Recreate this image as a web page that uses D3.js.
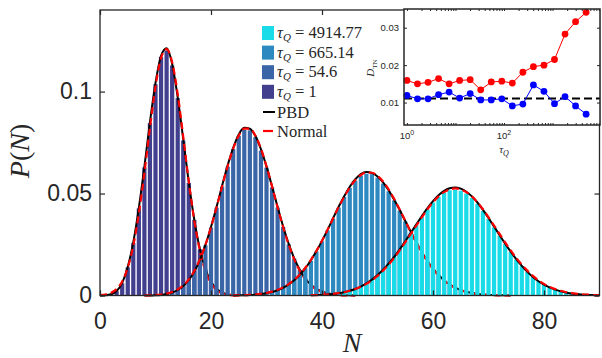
<!DOCTYPE html>
<html lang="en">
<head>
    <meta charset="utf-8">
    <title>P(N)</title>
    <script src="https://d3js.org/d3.v7.min.js" charset="utf-8"></script>
    <style>
        body { margin: 0; background: #fff; }
        .tick text { font-family: "Liberation Sans", Arial, sans-serif; fill: #262626; }
        .serif { font-family: "Liberation Serif", "Times New Roman", serif; fill: #262626; }
    </style>
</head>
<body>
<script>

// tau values shown in the legend (order: smallest first)
var tauLabels = ["1", "54.6", "665.14", "4914.77"]

// histogram / PBD / Normal values, one entry per integer N, starting at nStart
var nStart = [0, 8, 24, 38]

var hist1 = [0,0.0001,0.0005,0.0021,0.0060,0.0138,0.0258,0.0427,0.0628,0.0846,0.1036,0.1170,0.1201,0.1128,0.0968,0.0760,0.0552,0.0371,0.0226,0.0129,0.0066,0.0032,0.0014,0.0006,0.0002,0.0001]
var pbd1 = [0,0.0001,0.0006,0.0022,0.0062,0.0140,0.0262,0.0430,0.0632,0.0850,0.1042,0.1175,0.1212,0.1135,0.0972,0.0766,0.0555,0.0370,0.0228,0.0130,0.0068,0.0033,0.0015,0.0006,0.0002,0.0001]
var norm1 = [0.0002,0.0005,0.0013,0.0032,0.0069,0.0136,0.0245,0.0402,0.0601,0.0822,0.1024,0.1165,0.1208,0.1144,0.0988,0.0778,0.0559,0.0366,0.0219,0.0119,0.0060,0.0027,0.0011,0.0004,0.0001,0]

var hist2 = [0,0,0.0001,0.0003,0.0007,0.0015,0.0026,0.0047,0.0075,0.0119,0.0173,0.0246,0.0333,0.0430,0.0534,0.0632,0.0718,0.0783,0.0812,0.0810,0.0776,0.0710,0.0627,0.0530,0.0431,0.0336,0.0251,0.0181,0.0125,0.0083,0.0053,0.0032,0.0019,0.0011,0.0006,0.0003,0.0001,0.0001,0]
var pbd2 = [0,0,0.0001,0.0003,0.0007,0.0014,0.0027,0.0046,0.0076,0.0118,0.0175,0.0248,0.0336,0.0434,0.0538,0.0638,0.0724,0.0790,0.0822,0.0818,0.0782,0.0717,0.0632,0.0535,0.0434,0.0338,0.0253,0.0182,0.0126,0.0083,0.0053,0.0033,0.0020,0.0011,0.0006,0.0003,0.0001,0.0001,0]
var norm2 = [0,0.0001,0.0003,0.0005,0.0009,0.0017,0.0030,0.0049,0.0079,0.0121,0.0177,0.0249,0.0335,0.0432,0.0535,0.0634,0.0720,0.0784,0.0818,0.0818,0.0784,0.0720,0.0634,0.0535,0.0432,0.0335,0.0249,0.0177,0.0121,0.0079,0.0049,0.0030,0.0017,0.0009,0.0005,0.0003,0.0001,0,0]

var hist3 = [0,0.0001,0.0001,0.0002,0.0004,0.0007,0.0011,0.0018,0.0026,0.0037,0.0055,0.0074,0.0100,0.0133,0.0171,0.0216,0.0266,0.0319,0.0376,0.0431,0.0483,0.0528,0.0563,0.0588,0.0597,0.0595,0.0578,0.0549,0.0511,0.0466,0.0416,0.0363,0.0309,0.0258,0.0210,0.0167,0.0130,0.0100,0.0074,0.0054,0.0038,0.0026,0.0018,0.0012,0.0008,0.0005,0.0003,0.0002,0.0001,0.0001,0]
var pbd3 = [0,0.0001,0.0001,0.0002,0.0004,0.0007,0.0011,0.0017,0.0026,0.0038,0.0054,0.0075,0.0101,0.0134,0.0173,0.0218,0.0268,0.0322,0.0379,0.0435,0.0487,0.0533,0.0570,0.0595,0.0605,0.0601,0.0584,0.0555,0.0516,0.0470,0.0419,0.0365,0.0312,0.0260,0.0212,0.0169,0.0132,0.0101,0.0075,0.0055,0.0039,0.0027,0.0018,0.0012,0.0008,0.0005,0.0003,0.0002,0.0001,0.0001,0]
var norm3 = [0.0001,0.0001,0.0002,0.0003,0.0005,0.0008,0.0012,0.0019,0.0028,0.0040,0.0056,0.0077,0.0103,0.0136,0.0175,0.0219,0.0269,0.0322,0.0378,0.0433,0.0484,0.0529,0.0566,0.0591,0.0603,0.0602,0.0587,0.0559,0.0521,0.0474,0.0422,0.0367,0.0312,0.0259,0.0210,0.0166,0.0129,0.0098,0.0072,0.0052,0.0037,0.0026,0.0017,0.0011,0.0007,0.0005,0.0003,0.0002,0.0001,0.0001,0]

var hist4 = [0.0001,0.0002,0.0003,0.0005,0.0007,0.0011,0.0016,0.0022,0.0031,0.0043,0.0058,0.0077,0.0099,0.0124,0.0154,0.0187,0.0224,0.0263,0.0303,0.0344,0.0384,0.0422,0.0456,0.0484,0.0504,0.0516,0.0519,0.0514,0.0500,0.0478,0.0449,0.0414,0.0375,0.0334,0.0293,0.0252,0.0213,0.0177,0.0144,0.0115,0.0090,0.0070,0.0053,0.0039,0.0029,0.0021,0.0015,0.0010,0.0007,0.0004,0.0003,0.0002,0.0001]
var pbd4 = [0.0001,0.0002,0.0003,0.0005,0.0007,0.0011,0.0016,0.0023,0.0032,0.0044,0.0059,0.0078,0.0100,0.0126,0.0156,0.0189,0.0226,0.0266,0.0307,0.0349,0.0390,0.0429,0.0463,0.0492,0.0513,0.0526,0.0530,0.0524,0.0509,0.0486,0.0456,0.0420,0.0380,0.0338,0.0296,0.0254,0.0215,0.0178,0.0145,0.0116,0.0091,0.0070,0.0053,0.0040,0.0029,0.0021,0.0015,0.0010,0.0007,0.0004,0.0003,0.0002,0.0001]
var norm4 = [0.0002,0.0002,0.0004,0.0005,0.0008,0.0012,0.0016,0.0023,0.0032,0.0043,0.0057,0.0075,0.0096,0.0122,0.0151,0.0184,0.0221,0.0260,0.0302,0.0343,0.0384,0.0423,0.0457,0.0486,0.0507,0.0520,0.0525,0.0520,0.0507,0.0486,0.0457,0.0423,0.0384,0.0343,0.0302,0.0260,0.0221,0.0184,0.0151,0.0122,0.0096,0.0075,0.0057,0.0043,0.0032,0.0023,0.0016,0.0012,0.0008,0.0005,0.0004,0.0002,0.0001]

// inset: D_TN vs tau_Q
var tauQ = [1, 1.65, 2.72, 4.48, 7.39, 12.18, 20.09, 33.12, 54.6, 90.02, 148.41, 244.69, 403.43, 665.14, 1096.63, 1808.04, 2980.96, 4914.77]
var dRed = [0.0159,0.0150,0.0154,0.0164,0.0150,0.0159,0.0161,0.0134,0.0155,0.0157,0.0152,0.0181,0.0196,0.0200,0.0215,0.0283,0.0316,0.0341]
var dBlue = [0.0119,0.0110,0.0110,0.0121,0.0128,0.0112,0.0124,0.0107,0.0107,0.0110,0.0091,0.0096,0.0147,0.0130,0.0097,0.0116,0.0091,0.0069]
var dRef = 0.0111

var xTicks = [0, 20, 40, 60, 80]
var yTicks = [0, 0.05, 0.1]
var insetYTicks = [0.01, 0.02, 0.03]
var insetXLabels = [1, 100]

var barColors = ["#433f8f", "#3a66a7", "#2f89c1", "#1adbe8"]
var hists = [hist1, hist2, hist3, hist4]
var pbds = [pbd1, pbd2, pbd3, pbd4]
var norms = [norm1, norm2, norm3, norm4]

var w = 602, h = 358
var svg = d3.select("body").append("svg").attr("width", w).attr("height", h)

var x = d3.scaleLinear().domain([0, 90]).range([100, 599.5])
var y = d3.scaleLinear().domain([0, 0.14]).range([295.5, 10])

svg.append("clipPath").attr("id", "plot").append("rect")
    .attr("x", x(0)).attr("y", y(0.14)).attr("width", x(90) - x(0)).attr("height", y(0) - y(0.14) + 2)

function pts(start, vals) {
    return vals.map(function (v, i) { return { n: start + i, v: v } })
}

var line = d3.line()
    .x(function (d) { return x(d.n) })
    .y(function (d) { return y(d.v) })
    .curve(d3.curveMonotoneX)

var plot = svg.append("g").attr("clip-path", "url(#plot)")
var bw = (x(1) - x(0)) * 0.76

hists.forEach(function (hv, k) {
    plot.append("g").selectAll("rect").data(pts(nStart[k], hv)).join("rect")
        .attr("x", function (d) { return x(d.n) - bw / 2 })
        .attr("y", function (d) { return y(d.v) })
        .attr("width", bw)
        .attr("height", function (d) { return y(0) - y(d.v) })
        .attr("fill", barColors[k])
    plot.append("path").datum(pts(nStart[k], pbds[k])).attr("d", line)
        .attr("fill", "none").attr("stroke", "black").attr("stroke-width", 2)
    plot.append("path").datum(pts(nStart[k], norms[k])).attr("d", line)
        .attr("fill", "none").attr("stroke", "#ff0000").attr("stroke-width", 2.2)
        .attr("stroke-dasharray", "7,4")
})

// axes (ticks inside, box on)
var fmtY = function (d) { return d === 0 ? "0" : d3.format("")(d) }
svg.append("g").attr("transform", "translate(0," + y(0) + ")")
    .call(d3.axisBottom(x).tickValues(xTicks).tickSize(-5).tickPadding(17))
    .call(function (g) { g.selectAll("text").attr("font-size", 23) })
svg.append("g").attr("transform", "translate(0," + y(0.14) + ")")
    .call(d3.axisTop(x).tickValues(xTicks).tickSize(-5).tickFormat(""))
svg.append("g").attr("transform", "translate(" + x(0) + ",0)")
    .call(d3.axisLeft(y).tickValues(yTicks).tickSize(-5).tickPadding(8).tickFormat(fmtY))
    .call(function (g) { g.selectAll("text").attr("font-size", 23) })
svg.append("g").attr("transform", "translate(" + x(90) + ",0)")
    .call(d3.axisRight(y).tickValues(yTicks).tickSize(-5).tickFormat(""))
svg.selectAll(".domain").remove()
svg.selectAll(".tick line").attr("stroke", "#262626").attr("stroke-width", 1.2)
svg.append("rect").attr("x", x(0)).attr("y", y(0.14)).attr("width", x(90) - x(0)).attr("height", y(0) - y(0.14))
    .attr("fill", "none").attr("stroke", "#262626").attr("stroke-width", 1.3)

// axis labels
svg.append("text").attr("class", "serif").attr("x", 352).attr("y", 352)
    .attr("text-anchor", "middle").attr("font-size", 28).attr("font-style", "italic").text("N")
var yl = svg.append("text").attr("class", "serif").attr("transform", "translate(29,151) rotate(-90)")
    .attr("text-anchor", "middle").attr("font-size", 28)
yl.append("tspan").attr("font-style", "italic").text("P")
yl.append("tspan").text("(")
yl.append("tspan").attr("font-style", "italic").text("N")
yl.append("tspan").text(")")

// legend
var legend = svg.append("g")
var rows = [3, 2, 1, 0]
rows.forEach(function (k, i) {
    var cy = 33 + i * 19.6
    legend.append("rect").attr("x", 262).attr("y", cy - 7).attr("width", 12).attr("height", 14).attr("fill", barColors[k])
    var t = legend.append("text").attr("class", "serif").attr("x", 277).attr("y", cy + 5).attr("font-size", 16.5)
    t.append("tspan").attr("font-style", "italic").text("τ")
    t.append("tspan").attr("font-style", "italic").attr("font-size", 11).attr("dy", 3).text("Q")
    t.append("tspan").attr("dy", -3).text(" = " + tauLabels[k])
})
legend.append("line").attr("x1", 263).attr("x2", 275).attr("y1", 112).attr("y2", 112).attr("stroke", "black").attr("stroke-width", 2)
legend.append("text").attr("class", "serif").attr("x", 277).attr("y", 118).attr("font-size", 16.5).text("PBD")
legend.append("line").attr("x1", 263).attr("x2", 273).attr("y1", 131).attr("y2", 131).attr("stroke", "#ff0000").attr("stroke-width", 2.2)
legend.append("text").attr("class", "serif").attr("x", 277).attr("y", 137).attr("font-size", 16.5).text("Normal")

// inset
var xi = d3.scaleLog().domain([0.87, 9500]).range([404, 600])
var yi = d3.scaleLinear().domain([0.004, 0.035]).range([125, 9])
var inset = svg.append("g")
inset.append("rect").attr("x", 404).attr("y", 9).attr("width", 196).attr("height", 116).attr("fill", "white")

inset.append("line").attr("x1", 404).attr("x2", 600).attr("y1", yi(dRef)).attr("y2", yi(dRef))
    .attr("stroke", "black").attr("stroke-width", 2).attr("stroke-dasharray", "8,4")

var iline = d3.line().x(function (d) { return xi(d[0]) }).y(function (d) { return yi(d[1]) })
;[[dRed, "#ff0000"], [dBlue, "#0000ff"]].forEach(function (s) {
    var data = tauQ.map(function (t, i) { return [t, s[0][i]] })
    inset.append("path").datum(data).attr("d", iline).attr("fill", "none").attr("stroke", s[1]).attr("stroke-width", 1)
    inset.selectAll(null).data(data).join("circle")
        .attr("cx", function (d) { return xi(d[0]) }).attr("cy", function (d) { return yi(d[1]) })
        .attr("r", 3.4).attr("fill", s[1])
})

var minor = []
;[1, 10, 100, 1000].forEach(function (p) {
    for (var m = 1; m < 10; m++) if (p * m > 0.87 && p * m < 9500) minor.push(p * m)
})
inset.append("g").attr("transform", "translate(0,125)")
    .call(d3.axisBottom(xi).tickValues(minor).tickSize(-2).tickFormat(""))
inset.append("g").attr("transform", "translate(0,9)")
    .call(d3.axisTop(xi).tickValues(minor).tickSize(-2).tickFormat(""))
inset.append("g").attr("transform", "translate(404,0)")
    .call(d3.axisLeft(yi).tickValues(insetYTicks).tickSize(-3).tickPadding(5).tickFormat(d3.format(".2f")))
    .call(function (g) { g.selectAll("text").attr("font-size", 9.5) })
inset.append("g").attr("transform", "translate(600,0)")
    .call(d3.axisRight(yi).tickValues(insetYTicks).tickSize(-3).tickFormat(""))
inset.selectAll(".domain").remove()
inset.selectAll(".tick line").attr("stroke", "#262626")
inset.append("rect").attr("x", 404).attr("y", 9).attr("width", 196).attr("height", 116)
    .attr("fill", "none").attr("stroke", "#262626").attr("stroke-width", 1.5)

insetXLabels.forEach(function (v) {
    var t = inset.append("text").attr("x", xi(v)).attr("y", 139).attr("text-anchor", "middle")
        .attr("font-family", "Liberation Sans, Arial, sans-serif").attr("font-size", 9.5).attr("fill", "#262626")
    t.append("tspan").text("10")
    t.append("tspan").attr("font-size", 7).attr("dy", -4).text(String(Math.round(Math.log10(v))))
})
var tq = inset.append("text").attr("class", "serif").attr("x", 504).attr("y", 153).attr("text-anchor", "middle").attr("font-size", 11)
tq.append("tspan").attr("font-style", "italic").text("τ")
tq.append("tspan").attr("font-style", "italic").attr("font-size", 8).attr("dy", 3).text("Q")
var dl = inset.append("text").attr("class", "serif").attr("transform", "translate(374,68) rotate(-90)").attr("text-anchor", "middle").attr("font-size", 11)
dl.append("tspan").attr("font-style", "italic").text("D")
dl.append("tspan").attr("font-size", 7).attr("dy", 3).text("TN")

</script>
</body>
</html>
